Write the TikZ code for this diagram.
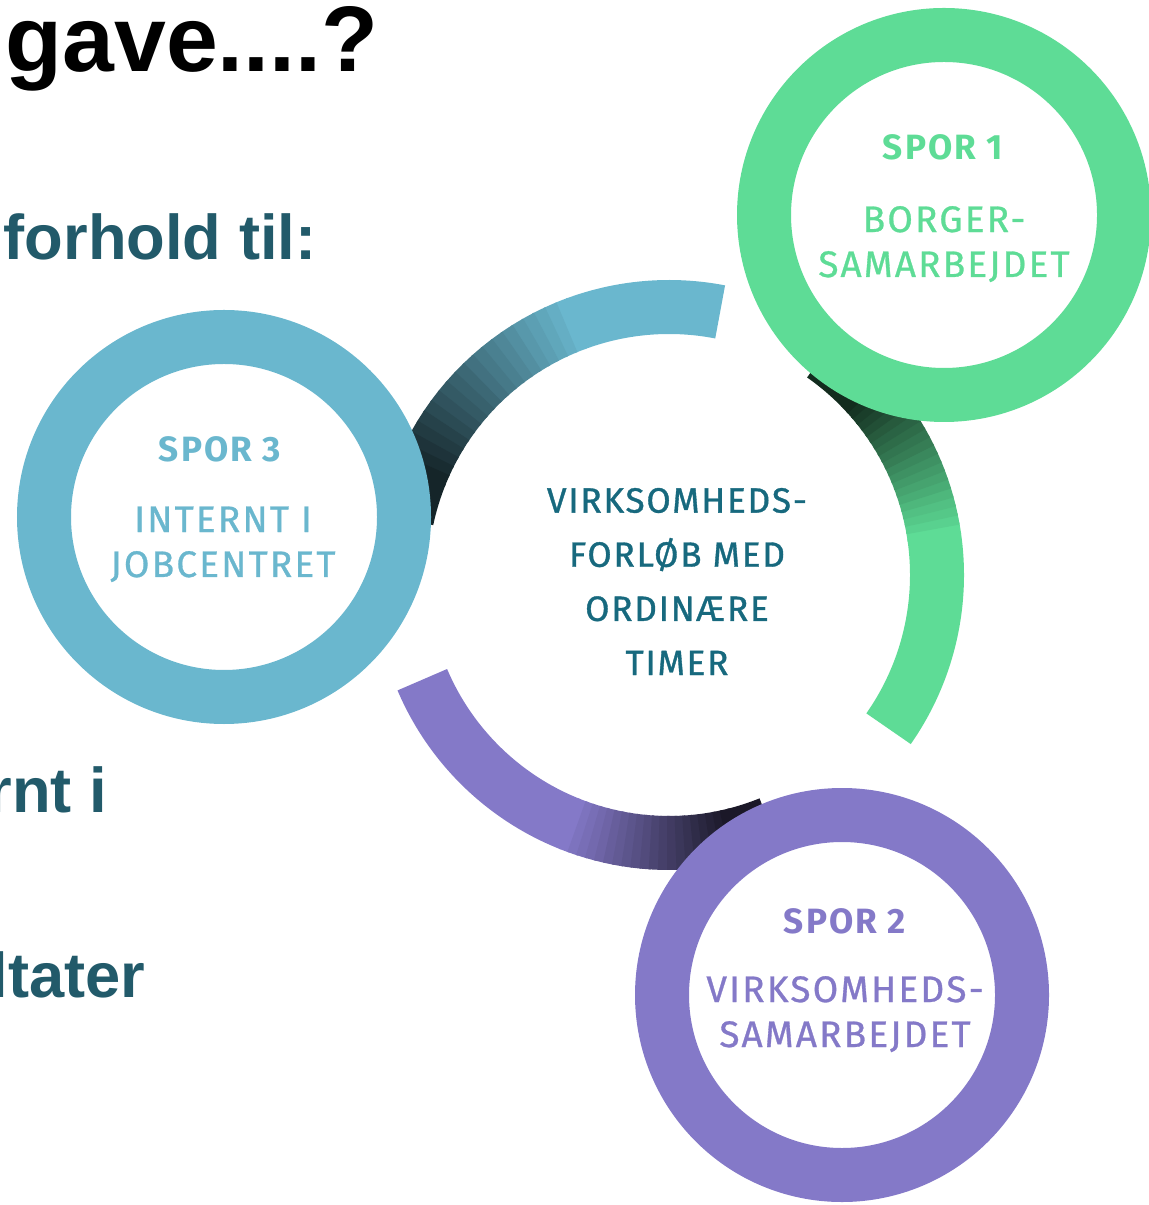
\documentclass[tikz,border=0pt]{standalone}
\usepackage{fontspec}
\setmainfont{Liberation Sans}
\newfontfamily\dinfont[LetterSpace=6]{Fira Sans}
\usetikzlibrary{positioning}
\definecolor{sporgreen}{HTML}{5EDC96}
\definecolor{sporblue}{HTML}{6AB7CE}
\definecolor{sporpurple}{HTML}{8479C8}
\definecolor{headteal}{HTML}{225A6A}
\definecolor{midteal}{HTML}{17697E}
\newcommand\fadearc[5]{
  \draw[#1, line width=0.54cm] ([shift={(#2:2.68)}]mid) arc[start angle=#2, end angle=#3+0.5, radius=2.68];
  \foreach \k in {0,...,19}{
    \pgfmathsetmacro\aone{#3+(#4-#3)*\k/20}
    \pgfmathsetmacro\atwo{#3+(#4-#3)*(\k+1)/20+0.5}
    \pgfmathtruncatemacro\mixp{100-80*\k/19}
    \draw[#1!\mixp!black, line width=0.54cm] ([shift={(\aone:2.68)}]mid) arc[start angle=\aone, end angle=\atwo, radius=2.68];
  }
  \draw[#1!20!black, line width=0.54cm] ([shift={(#4:2.68)}]mid) arc[start angle=#4, end angle=#5, radius=2.68];
}

\begin{document}
\begin{tikzpicture}[
  ring/.style={circle, draw=#1, line width=0.54cm, fill=white, minimum size=3.6cm, inner sep=0},
  sportitle/.style={text=#1, font=\dinfont\bfseries\fontsize{10}{12}\selectfont, inner sep=0, anchor=base},
  sportext/.style={text=#1, font=\dinfont\addfontfeature{FakeBold=0.8}\fontsize{10.5}{12.8}\selectfont, align=center, inner sep=0, anchor=base},
  head/.style={font=\bfseries\fontsize{18}{20}\selectfont, text=headteal, inner sep=0, anchor=base west}
]
	\useasboundingbox (0,0) rectangle (11.48,-12.05);
	\coordinate (mid) at (6.69,-5.75);
	\node[font=\bfseries\fontsize{26.5}{30}\selectfont, inner sep=0, anchor=base west] (title) at (0.05,-0.72) {gave....?};
	\node[head] (forhold) at (0.03,-2.60) {forhold til:};
	\node[head] (internt) at (-0.13,-8.12) {rnt i};
	\node[head] (resultater) at (-0.10,-9.97) {ltater};
	\fadearc{sporblue}{79}{110}{158}{168}
	\fadearc{sporgreen}{-35}{8}{44}{55}
	\fadearc{sporpurple}{203}{248}{284}{292}
	\node[ring=sporgreen] (ring1) at (9.44,-2.15) {};
	\node[ring=sporblue] (ring3) at (2.24,-5.17) {};
	\node[ring=sporpurple] (ring2) at (8.42,-9.95) {};
	\node[sportitle=sporgreen] (spor1) at (9.43,-1.60) {SPOR 1};
	\node[sportext=sporgreen] (spor1txt) at (9.44,-2.77) {BORGER-\\SAMARBEJDET};
	\node[sportitle=sporblue] (spor3) at (2.20,-4.62) {SPOR 3};
	\node[sportext=sporblue] (spor3txt) at (2.23,-5.77) {INTERNT I\\JOBCENTRET};
	\node[sportitle=sporpurple] (spor2) at (8.45,-9.33) {SPOR 2};
	\node[sportext=sporpurple] (spor2txt) at (8.45,-10.47) {VIRKSOMHEDS-\\SAMARBEJDET};
	\node[sportext=midteal, font=\dinfont\addfontfeature{LetterSpace=5,FakeBold=1}\fontsize{10}{15.4}\selectfont] (forloeb) at (6.77,-6.75) {VIRKSOMHEDS-\\FORLØB MED\\ORDINÆRE\\TIMER};
\end{tikzpicture}
\end{document}
